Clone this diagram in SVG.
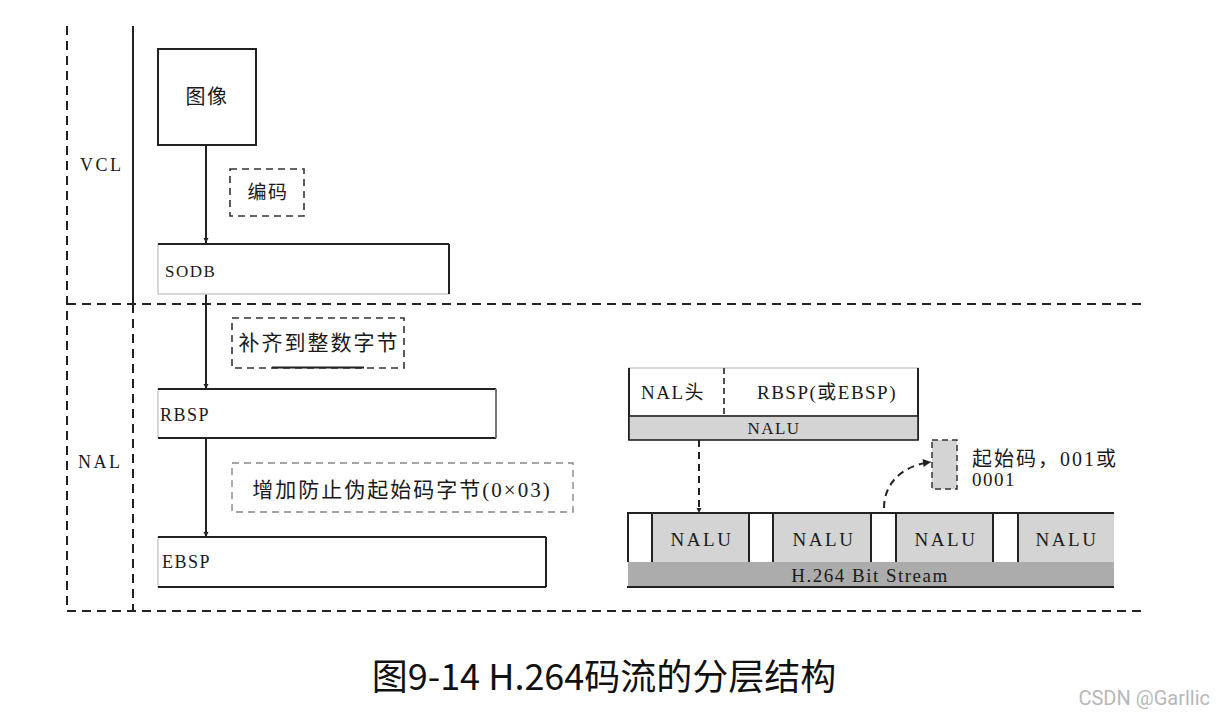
<svg xmlns="http://www.w3.org/2000/svg" width="1216" height="720" viewBox="0 0 1216 720">
  <style>
    .serif { font-family: "Liberation Serif", "Noto Sans CJK SC", serif; fill: #1a1a1a; letter-spacing: 1.5px; }
    .box { fill: #ffffff; stroke: #222; stroke-width: 2; }
    .edge { stroke: #222; stroke-width: 2; }
    .frame { stroke: #222; stroke-width: 2; stroke-dasharray: 9 6; fill: none; }
    .note { fill: #ffffff; stroke: #333; stroke-width: 1.6; stroke-dasharray: 7 5; }
    .note-light { fill: #ffffff; stroke: #888; stroke-width: 1.4; stroke-dasharray: 7 5; }
    .grey { fill: #d4d4d4; stroke: #222; stroke-width: 1.6; }
    .dark-grey { fill: #acacac; stroke: none; }
    .link { stroke: #222; stroke-width: 2; fill: none; }
    .link-dash { stroke: #222; stroke-width: 2; fill: none; stroke-dasharray: 7 5; }
  </style>
  <defs>
    <marker id="head" viewBox="0 0 10 10" refX="10" refY="5" markerWidth="5" markerHeight="6" orient="auto" markerUnits="userSpaceOnUse">
      <path d="M0,0 L10,5 L0,10 z" fill="#222"/>
    </marker>
    <marker id="head-s" viewBox="0 0 10 10" refX="10" refY="5" markerWidth="14" markerHeight="8" orient="auto" markerUnits="userSpaceOnUse">
      <path d="M0,0 L10,5 L0,10 z" fill="#222"/>
    </marker>
  </defs>
  <rect width="1216" height="720" fill="#ffffff"/>

  <!-- layer frame -->
  <g id="layers">
    <line class="frame" x1="67" y1="26" x2="67" y2="611"/>
    <line class="edge" x1="133" y1="26" x2="133" y2="304"/>
    <line class="frame" x1="133" y1="304" x2="133" y2="611"/>
    <line class="frame" x1="67" y1="304" x2="1143" y2="304"/>
    <line class="frame" x1="67" y1="611" x2="1143" y2="611"/>
    <text class="serif" x="80" y="171" font-size="18" style="letter-spacing:2.5px">VCL</text>
    <text class="serif" x="78" y="468" font-size="18" style="letter-spacing:2.5px">NAL</text>
  </g>

  <!-- connectors -->
  <g id="connectors">
    <line class="link" x1="206" y1="145" x2="206" y2="243" marker-end="url(#head)"/>
    <line class="link" x1="206" y1="294" x2="206" y2="389" marker-end="url(#head)"/>
    <line class="link" x1="206" y1="438" x2="206" y2="537" marker-end="url(#head)"/>
    <line class="link-dash" x1="699" y1="440" x2="699" y2="513" marker-end="url(#head)"/>
    <path class="link-dash" d="M884,508 C884,485 900,466 931,462" marker-end="url(#head-s)"/>
  </g>

  <g id="image">
    <rect class="box" x="158" y="49" width="98" height="96"/>
    <text class="serif" x="207" y="104" font-size="20" text-anchor="middle">图像</text>
  </g>

  <g id="encode">
    <rect class="note" x="230" y="169" width="74" height="47"/>
    <text class="serif" x="268" y="199" font-size="19" text-anchor="middle">编码</text>
  </g>

  <g id="sodb">
    <rect x="158" y="244" width="291" height="50" fill="#fff" stroke="#ccc" stroke-width="1.5"/>
    <line class="edge" x1="158" y1="244" x2="449" y2="244"/>
    <line class="edge" x1="449" y1="244" x2="449" y2="294"/>
    <text class="serif" x="165" y="277" font-size="17">SODB</text>
  </g>

  <g id="align">
    <rect class="note" x="232" y="318" width="172" height="50"/>
    <line class="edge" x1="272" y1="367.5" x2="364" y2="367.5"/>
    <text class="serif" x="319" y="350" font-size="21" text-anchor="middle" style="letter-spacing:2px">补齐到整数字节</text>
  </g>

  <g id="rbsp">
    <rect x="158" y="389" width="338" height="49" fill="#fff" stroke="#ccc" stroke-width="1.5"/>
    <line class="edge" x1="158" y1="389" x2="496" y2="389"/>
    <line class="edge" x1="158" y1="438" x2="496" y2="438"/>
    <line x1="496" y1="389" x2="496" y2="438" stroke="#777" stroke-width="2"/>
    <text class="serif" x="160" y="421" font-size="18">RBSP</text>
  </g>

  <g id="emulation">
    <rect class="note-light" x="232" y="463" width="341" height="49"/>
    <text class="serif" x="402" y="497" font-size="21" text-anchor="middle" style="letter-spacing:2px">增加防止伪起始码字节(0×03)</text>
  </g>

  <g id="ebsp">
    <rect x="158" y="537" width="388" height="50" fill="#fff" stroke="#ccc" stroke-width="1.5"/>
    <line class="edge" x1="158" y1="537" x2="546" y2="537"/>
    <line class="edge" x1="158" y1="587" x2="546" y2="587"/>
    <line class="edge" x1="546" y1="537" x2="546" y2="587"/>
    <text class="serif" x="162" y="568" font-size="18">EBSP</text>
  </g>

  <!-- NAL unit structure -->
  <g id="nalu">
    <rect x="629" y="368" width="289" height="48" fill="#fff" stroke="#ccc" stroke-width="1.5"/>
    <line class="edge" x1="629" y1="368" x2="629" y2="440"/>
    <line class="edge" x1="918" y1="368" x2="918" y2="440"/>
    <rect class="grey" x="629" y="416" width="289" height="24"/>
    <line x1="724" y1="368" x2="724" y2="416" stroke="#222" stroke-width="1.6" stroke-dasharray="6 4"/>
    <text class="serif" x="673" y="399" font-size="19" text-anchor="middle">NAL头</text>
    <text class="serif" x="827" y="399" font-size="19" text-anchor="middle">RBSP(或EBSP)</text>
    <text class="serif" x="774" y="434" font-size="17" text-anchor="middle">NALU</text>
  </g>

  <g id="start-code">
    <rect x="932" y="440" width="25" height="49" fill="#d4d4d4" stroke="#333" stroke-width="1.5" stroke-dasharray="6 4"/>
    <text class="serif" x="972" y="466" font-size="20" style="letter-spacing:2px">起始码，001或</text>
    <text class="serif" x="972" y="486" font-size="19">0001</text>
  </g>

  <!-- H.264 bit stream -->
  <g id="bitstream">
    <rect x="628" y="562" width="486" height="25" class="dark-grey"/>
    <rect x="628" y="513" width="486" height="49" fill="#fff"/>
    <rect x="652" y="513" width="97" height="49" fill="#d4d4d4"/>
    <rect x="773" y="513" width="98" height="49" fill="#d4d4d4"/>
    <rect x="896" y="513" width="97" height="49" fill="#d4d4d4"/>
    <rect x="1018" y="513" width="96" height="49" fill="#d4d4d4"/>
    <line class="edge" x1="627" y1="513" x2="1114" y2="513"/>
    <line class="edge" x1="627" y1="587" x2="1114" y2="587"/>
    <line class="edge" x1="628" y1="513" x2="628" y2="562"/>
    <line class="edge" x1="652" y1="513" x2="652" y2="562"/>
    <line class="edge" x1="749" y1="513" x2="749" y2="562"/>
    <line class="edge" x1="773" y1="513" x2="773" y2="562"/>
    <line class="edge" x1="871" y1="513" x2="871" y2="562"/>
    <line class="edge" x1="896" y1="513" x2="896" y2="562"/>
    <line class="edge" x1="993" y1="513" x2="993" y2="562"/>
    <line class="edge" x1="1018" y1="513" x2="1018" y2="562"/>
    <text class="serif" x="702" y="546" font-size="19" text-anchor="middle" style="letter-spacing:2.5px">NALU</text>
    <text class="serif" x="824" y="546" font-size="19" text-anchor="middle" style="letter-spacing:2.5px">NALU</text>
    <text class="serif" x="946" y="546" font-size="19" text-anchor="middle" style="letter-spacing:2.5px">NALU</text>
    <text class="serif" x="1067" y="546" font-size="19" text-anchor="middle" style="letter-spacing:2.5px">NALU</text>
    <text class="serif" x="870" y="582" font-size="19" text-anchor="middle">H.264 Bit Stream</text>
  </g>

  <text x="604" y="690" font-family="'Noto Sans CJK SC', 'Noto Sans', sans-serif" font-size="36" fill="#111" text-anchor="middle">图9-14 H.264码流的分层结构</text>
  <text x="1210" y="705" font-family="Roboto, 'Liberation Sans', sans-serif" font-size="20" fill="#b8b8b8" text-anchor="end">CSDN @Garllic</text>
</svg>
